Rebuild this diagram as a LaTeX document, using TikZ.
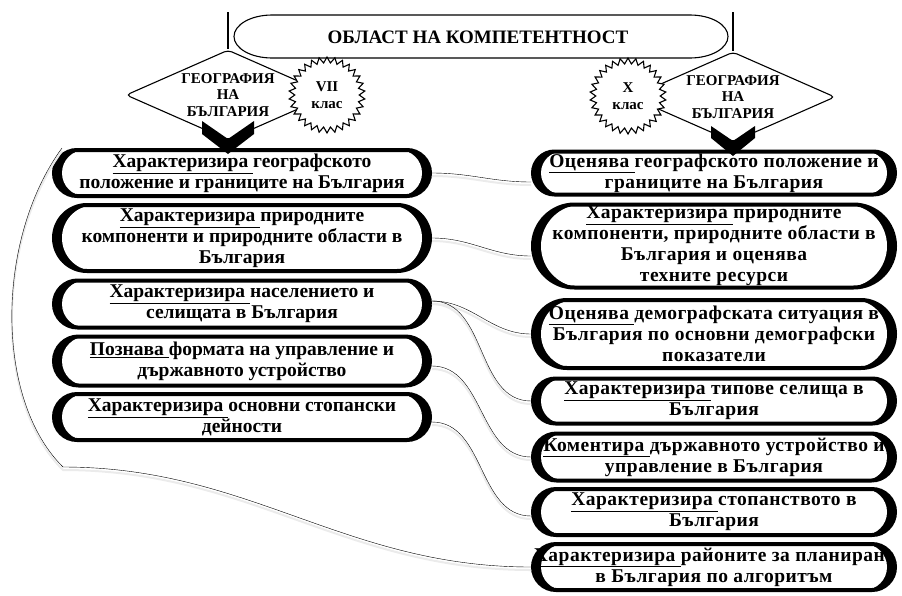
\documentclass[tikz,border=0pt]{standalone}
\usepackage{fontspec}
\setmainfont{Liberation Serif}
\newfontfamily\widefont{Liberation Serif}[LetterSpace=2.5]
\usetikzlibrary{shapes.geometric}

\newcommand{\act}[1]{\underline{#1\ }}

\tikzset{
  comp/.style n args={2}{rectangle, rounded corners={#2*0.5pt}, draw, line width=4pt, fill=white,
    minimum width=#1pt, minimum height=#2pt, align=center, inner sep=0pt,
    font=\bfseries\fontsize{19.5}{21}\selectfont,
    path picture={
      \fill[black] (path picture bounding box.south west) rectangle (path picture bounding box.north east);
      \fill[white, rounded corners={#2*0.5pt}] ([xshift=8pt]path picture bounding box.south west)
        rectangle ([xshift=-8pt]path picture bounding box.north east);
    }},
  wide/.style={font=\widefont\bfseries\fontsize{19.5}{21}\selectfont},
  link/.style={thin, preaction={draw=black!8, line width=2pt, transform canvas={yshift=-3pt}}},
  geo/.style={diamond, aspect=2.3, draw, line width=1.1pt, rounded corners=4pt, fill=white, align=center,
    inner sep=-3pt, minimum width=204pt, minimum height=90pt,
    font=\bfseries\fontsize{15}{16.5}\selectfont},
  grade/.style={star, star points=30, star point ratio=1.18, draw, line width=1.1pt, fill=white,
    align=center, inner sep=0pt, minimum size=76pt,
    font=\bfseries\fontsize{15}{17}\selectfont},
}

\begin{document}
\begin{tikzpicture}[x=1pt,y=-1pt]
\useasboundingbox (0,0) rectangle (902,595);

% title
\draw[line width=1.1pt] (272,15) -- (690,15) arc[start angle=-90,end angle=90,x radius=38,y radius=21.5]
  -- (272,58) arc[start angle=90,end angle=270,x radius=38,y radius=21.5] -- cycle;
\node[font=\bfseries\fontsize{19}{22}\selectfont] (area) at (478,37) {ОБЛАСТ НА КОМПЕТЕНТНОСТ};

% grades
\node[geo] (geo7) at (228,95) {ГЕОГРАФИЯ\\НА\\БЪЛГАРИЯ};
\node[grade] (gr7) at (327,95) {VII\\клас};
\node[geo] (geo10) at (733,97) {ГЕОГРАФИЯ\\НА\\БЪЛГАРИЯ};
\node[grade] (gr10) at (628,96) {X\\клас};

\coordinate (top7) at (228,12);
\coordinate (top10) at (733,12);
\draw[line width=1.1pt] (top7) -- (geo7.north);
\draw[line width=1.1pt] (top10) -- (geo10.north);

% VII grade
\node[comp={376}{46}] (L1) at (242,173) {\act{Характеризира}географското\\положение и границите на България};
\node[comp={376}{66}] (L2) at (242,238) {\act{Характеризира}природните\\компоненти и природните области в\\България};
\node[comp={376}{47}] (L3) at (242,304) {\act{Характеризира}населението и\\селищата в България};
\node[comp={376}{49}] (L4) at (242,361) {\act{Познава}формата на управление и\\държавното устройство};
\node[comp={376}{46}] (L5) at (242,417) {\act{Характеризира}основни стопански\\дейности};

% X grade
\node[comp={362}{43}, wide] (R1) at (714,173) {\act{Оценява}географското положение и\\границите на България};
\node[comp={362}{83}, wide] (R2) at (714,246) {\act{Характеризира}природните\\компоненти, природните области в\\България и оценява\\техните ресурси};
\node[comp={362}{68}, wide] (R3) at (714,334) {\act{Оценява}демографската ситуация в\\България по основни демографски\\показатели};
\node[comp={362}{45}, wide] (R4) at (714,401) {\act{Характеризира}типове селища в\\България};
\node[comp={362}{47}, wide] (R5) at (714,457) {\act{Коментира}държавното устройство и\\управление в България};
\node[comp={362}{46}, wide] (R6) at (714,512) {\act{Характеризира}стопанството в\\България};
\node[comp={362}{46}, wide] (R7) at (714,567) {\act{Характеризира}районите за планиране\\в България по алгоритъм};

% arrows
\fill (202,121) -- (228,139) -- (254,121) -- (254,134) -- (228,154) -- (202,134) -- cycle;
\fill (711,126) -- (733,141) -- (755,126) -- (755,138) -- (733,156) -- (711,138) -- cycle;

% links
\coordinate (bend) at (63,467);
\draw[link] (L1.east) to[out=0,in=180] ([yshift=-9pt]R1.west);
\draw[link] (L2.east) to[out=0,in=180] ([yshift=-10pt]R2.west);
\draw[link] ([yshift=3pt]L3.east) to[out=0,in=180] (R3.west);
\draw[link] ([yshift=3pt]L3.east) to[out=0,in=180] (R4.west);
\draw[link] ([yshift=-5pt]L4.east) to[out=0,in=180] (R5.west);
\draw[link] ([yshift=-5pt]L5.east) to[out=0,in=180] ([yshift=-4pt]R6.west);
\draw[link] ([xshift=10pt]L1.north west) .. controls (-5,240) and (-5,400) .. (bend)
  to[out=0,in=180] (R7.west);
\end{tikzpicture}
\end{document}
